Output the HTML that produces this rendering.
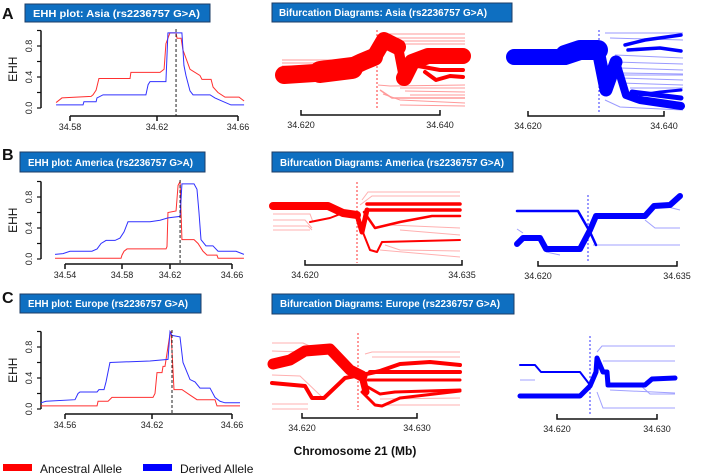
<!DOCTYPE html>
<html><head><meta charset="utf-8">
<style>
body{margin:0;background:#fff;}
svg{display:block;font-family:"Liberation Sans",sans-serif;}
.tb{fill:#0E6FC1;stroke:#1d3c66;stroke-width:1;}
.tt{fill:#fff;font-weight:bold;font-size:10.5px;}
.tick{font-size:9px;fill:#222;}
</style></head><body>
<svg id="fig" width="702" height="475" viewBox="0 0 702 475">
<g font-weight="bold" font-size="16" fill="#111">
<text x="2" y="19">A</text>
<text x="2" y="160">B</text>
<text x="2" y="303">C</text>
</g>
<g>
<rect class="tb" x="25" y="4" width="185" height="18"/>
<text class="tt" x="33" y="17" textLength="167" lengthAdjust="spacingAndGlyphs">EHH plot: Asia (rs2236757 G&gt;A)</text>
<rect class="tb" x="272" y="3" width="240" height="19"/>
<text class="tt" x="279" y="16" textLength="208" lengthAdjust="spacingAndGlyphs">Bifurcation Diagrams: Asia (rs2236757 G&gt;A)</text>
<rect class="tb" x="20" y="152" width="185" height="20"/>
<text class="tt" x="28" y="166" textLength="165" lengthAdjust="spacingAndGlyphs">EHH plot: America (rs2236757 G&gt;A)</text>
<rect class="tb" x="272" y="152" width="241" height="20"/>
<text class="tt" x="280" y="166" textLength="224" lengthAdjust="spacingAndGlyphs">Bifurcation Diagrams: America (rs2236757 G&gt;A)</text>
<rect class="tb" x="20" y="294" width="181" height="19"/>
<text class="tt" x="28" y="307" textLength="160" lengthAdjust="spacingAndGlyphs">EHH plot: Europe (rs2236757 G&gt;A)</text>
<rect class="tb" x="272" y="294" width="242" height="20"/>
<text class="tt" x="280" y="307" textLength="220" lengthAdjust="spacingAndGlyphs">Bifurcation Diagrams: Europe (rs2236757 G&gt;A)</text>
</g>
<text x="355" y="455" text-anchor="middle" font-weight="bold" font-size="12" fill="#111">Chromosome 21 (Mb)</text>
<g>
<rect x="3" y="464" width="29" height="7" fill="#ff0000"/>
<text x="40" y="473" font-size="12" fill="#111">Ancestral Allele</text>
<rect x="143" y="464" width="29" height="7" fill="#0000ff"/>
<text x="180" y="473" font-size="12" fill="#111">Derived Allele</text>
</g>
<g id="charts"></g>
</svg>
<script>
// EHH data (x in Mb, y = EHH)
const asiaTicks=[34.58,34.62,34.66];
const asiaRedX=[34.5736,34.5763,34.5897,34.5906,34.5920,34.5933,34.6076,34.6080,34.6215,34.6235,34.6244,34.6264,34.6294,34.6299,34.6319,34.6328,34.6363,34.6412,34.6422,34.6467,34.6477,34.6501,34.6536,34.6605,34.6630];
const asiaRedY=[0.07,0.13,0.15,0.17,0.23,0.38,0.38,0.46,0.46,0.50,0.83,0.97,0.97,0.90,0.90,0.75,0.50,0.42,0.37,0.37,0.27,0.20,0.14,0.14,0.09];
const asiaBlueX=[34.5736,34.5860,34.5864,34.5920,34.5924,34.5952,34.6149,34.6159,34.6168,34.6244,34.6254,34.6323,34.6333,34.6343,34.6363,34.6378,34.6462,34.6486,34.6521,34.6565,34.6630];
const asiaBlueY=[0.04,0.04,0.08,0.08,0.13,0.17,0.17,0.30,0.34,0.34,0.97,0.97,0.55,0.42,0.22,0.17,0.17,0.13,0.09,0.04,0.04];
const asiaCore=34.6294;
const amTicks=[34.54,34.58,34.62,34.66];
const amRedX=[34.5330,34.5793,34.5800,34.5817,34.5842,34.6167,34.6175,34.6183,34.6239,34.6252,34.6265,34.6277,34.6355,34.6381,34.6413,34.6439,34.6503,34.6510,34.6677];
const amRedY=[0.01,0.01,0.05,0.10,0.13,0.13,0.16,0.60,0.62,0.95,1.00,0.25,0.25,0.20,0.10,0.05,0.05,0.01,0.01];
const amBlueX=[34.5330,34.5386,34.5435,34.5589,34.5625,34.5653,34.5688,34.5751,34.5786,34.5817,34.5850,34.6033,34.6117,34.6183,34.6265,34.6277,34.6355,34.6374,34.6387,34.6400,34.6432,34.6477,34.6510,34.6626,34.6677];
const amBlueY=[0.06,0.07,0.10,0.10,0.13,0.20,0.24,0.24,0.27,0.35,0.48,0.48,0.50,0.53,0.55,0.97,0.97,0.90,0.60,0.25,0.17,0.17,0.10,0.10,0.06];
const amCore=34.6265;
const euTicks=[34.56,34.62,34.66];
const euRedX=[34.5434,34.5821,34.5828,34.5897,34.5924,34.6205,34.6215,34.6225,34.6250,34.6255,34.6265,34.6290,34.6295,34.6310,34.6350,34.6390,34.6425,34.6515,34.6525,34.6640];
const euRedY=[0.04,0.04,0.10,0.10,0.15,0.15,0.20,0.47,0.47,0.55,0.55,0.97,1.00,0.25,0.25,0.18,0.12,0.12,0.04,0.04];
const euBlueX=[34.5434,34.5469,34.5669,34.5690,34.5703,34.5821,34.5834,34.5869,34.5883,34.5910,34.6186,34.6280,34.6290,34.6300,34.6340,34.6355,34.6390,34.6415,34.6440,34.6490,34.6515,34.6540,34.6565,34.6640];
const euBlueY=[0.08,0.10,0.12,0.20,0.22,0.22,0.25,0.25,0.35,0.60,0.62,0.64,1.00,0.95,0.93,0.60,0.38,0.35,0.27,0.27,0.15,0.10,0.08,0.08];
const euCore=34.630;
const yTicks=[0,0.2,0.4,0.6,0.8,1.0];
const yLabels=["0.0","","0.4","","0.8",""];

const NS="http://www.w3.org/2000/svg";
const root=document.getElementById('charts');
function mk(tag,attrs,parent){const e=document.createElementNS(NS,tag);for(const k in attrs)e.setAttribute(k,attrs[k]);(parent||root).appendChild(e);return e;}
function piecewise(dom,rng){return v=>{let i=0;while(i<dom.length-2&&v>dom[i+1])i++;return rng[i]+(v-dom[i])*(rng[i+1]-rng[i])/(dom[i+1]-dom[i]);};}

function ehh(name,ticks,tickPx,y0,axisY,redX,redY,blueX,blueY,core){
  const g=mk('g',{});
  
  
  const sx=piecewise(ticks,tickPx);
  const sy=v=>y0-v*77.5;
  const ya=mk('line',{x1:41,x2:41,y1:sy(0),y2:sy(1),stroke:'#111','stroke-width':1.5},g);
  
  
  yTicks.forEach((t,i)=>{
    const tl=mk('line',{x1:37,x2:41,y1:sy(t),y2:sy(t),stroke:'#111','stroke-width':1.2},g);
    
    
    if(yLabels[i]){
      const tx=mk('text',{x:0,y:0,transform:`translate(32,${sy(t)}) rotate(-90)`,'text-anchor':'middle','class':'tick','font-size':'8.5'},g);
      tx.textContent=yLabels[i];
      
      
    }
  });
  const yt=mk('text',{x:0,y:0,transform:`translate(17,${sy(0.5)}) rotate(-90)`,'text-anchor':'middle','font-size':'12',fill:'#111'},g);
  yt.textContent='EHH';
  
  
  const xa=mk('line',{x1:sx(ticks[0]),x2:sx(ticks[ticks.length-1]),y1:axisY,y2:axisY,stroke:'#111','stroke-width':1.5},g);
  
  
  ticks.forEach(t=>{
    const tl=mk('line',{x1:sx(t),x2:sx(t),y1:axisY,y2:axisY+5,stroke:'#111','stroke-width':1.5},g);
    
    
    const tx=mk('text',{x:sx(t),y:axisY+14,'text-anchor':'middle','class':'tick'},g);
    tx.textContent=t.toFixed(2);
    
    
  });
  const pr=mk('polyline',{points:redX.map((x,i)=>sx(x)+','+sy(redY[i])).join(' '),fill:'none',stroke:'#ff3030','stroke-width':1},g);
  
  
  const pb=mk('polyline',{points:blueX.map((x,i)=>sx(x)+','+sy(blueY[i])).join(' '),fill:'none',stroke:'#3030ff','stroke-width':1},g);
  
  
  const cl=mk('line',{x1:sx(core),x2:sx(core),y1:sy(1.02),y2:axisY,stroke:'#222','stroke-width':1,'stroke-dasharray':'3,2'},g);
  
  
}
ehh('ehh-plot-asia',asiaTicks,[70,157,238],108,116,asiaRedX,asiaRedY,asiaBlueX,asiaBlueY,asiaCore);
ehh('ehh-plot-america',amTicks,[65,122,170,232],259,264,amRedX,amRedY,amBlueX,amBlueY,amCore);
ehh('ehh-plot-europe',euTicks,[65,152,232],409,414,euRedX,euRedY,euBlueX,euBlueY,euCore);

const bifs=[
 {name:'bifurcation-asia-ancestral',col:'#ff0000',light:'#ff9a9a',core:377,cy:[30,110],ax:[301,440,115],labels:['34.620','34.640'],
  thick:[[[284,75,330,72,345,70,362,62,374,57],18],[[374,57,384,40,398,47],16],[[398,47,404,78],10],[[404,78,412,62,428,56,463,56],16],[[320,72,352,68],22],[[418,66,440,70,463,70],4],[[425,72,436,80,450,76,463,77],4]],
  thin:[[[282,60,335,60],1],[[282,63,330,63],1],[[282,66,300,66],1],[[382,34,465,34],1],[[390,38,465,38],1],[[395,41,465,41],1],[[400,44,465,44],1],[[380,90,392,98,465,98],1.5],[[383,94,400,100,465,103],1],[[400,88,465,88],1],[[405,91,465,92],1],[[410,95,465,95],1],[[378,85,390,86,465,85],1],[[400,105,465,106],1]]},
 {name:'bifurcation-asia-derived',col:'#0000ff',light:'#9a9aff',core:599,cy:[30,112],ax:[528,664,116],labels:['34.620','34.640'],
  thick:[[[514,57,565,57],16],[[565,55,580,50,598,50],20],[[598,50,606,90,616,62],13],[[616,62,626,95,640,100,681,106],8],[[625,45,645,40,681,35],3.5],[[628,50,660,48,681,51],3.5],[[632,92,681,98],5],[[640,95,660,92,681,90],3]],
  thin:[[[605,33,683,33],1],[[610,38,683,40],1],[[615,55,683,58],1],[[615,62,683,64],1],[[620,68,683,70],1],[[620,73,683,74],1],[[620,78,683,80],1],[[620,83,683,85],1],[[630,88,683,88],1],[[605,100,620,107,683,110],1],[[600,60,610,75,683,75],1]]},
 {name:'bifurcation-america-ancestral',col:'#ff0000',light:'#ffb0b0',core:357,cy:[182,263],ax:[305,462,265],labels:['34.620','34.635'],
  thick:[[[273,206,328,206,343,213,357,215],8],[[357,215,362,232,367,210],5],[[367,204,460,204],3.5],[[367,210,460,210],3.5],[[364,212,375,228,400,222,432,216,460,216],2.5],[[360,225,370,250,377,252,382,242,460,240],2],[[310,222,330,218,343,213],2]],
  thin:[[[273,214,310,214,313,222],1],[[273,220,305,220,312,228],1],[[273,226,308,226,312,230],1],[[273,230,310,230],1],[[362,200,368,192,460,192],1],[[360,205,372,196,460,196],1],[[390,225,460,228],1],[[400,230,460,235],1],[[385,245,400,250,460,251],1],[[380,250,460,257],1]]},
 {name:'bifurcation-america-derived',col:'#0000ff',light:'#a0a0ff',core:588,cy:[195,262],ax:[538,677,266],labels:['34.620','34.635'],
  thick:[[[517,211,578,211,590,232,596,245],2.5],[[517,244,523,238,540,238,546,249,580,249,590,230,596,216,645,216,654,206,670,205,680,196],6]],
  thin:[[[517,229,523,233],1],[[593,245,680,245],1],[[645,220,655,228,680,228],1],[[660,205,680,210],1],[[546,252,560,255],1]]},
 {name:'bifurcation-europe-ancestral',col:'#ff0000',light:'#ffb0b0',core:358,cy:[333,410],ax:[302,417,418],labels:['34.620','34.630'],
  thick:[[[273,364,290,360,305,351,330,349,350,370,362,376],11],[[272,383,305,386,312,398,324,398,345,378,360,375],4],[[362,376,366,392],7],[[362,375,380,371,400,364,430,362,460,365],4],[[370,372,460,372],4],[[368,380,460,380],3],[[366,386,380,394,395,392,460,390],3],[[362,392,375,405,382,406,400,398,460,391],3]],
  thin:[[[272,343,303,343,312,347],1],[[272,351,300,352,305,355],1],[[272,375,300,376,322,397],1],[[272,404,308,404],1],[[272,409,308,409],1],[[365,354,372,352,460,352],1],[[372,357,460,357],1],[[380,399,460,398],1],[[385,405,460,405],1]]},
 {name:'bifurcation-europe-derived',col:'#0000ff',light:'#a0a0ff',core:590,cy:[336,416],ax:[557,657,419],labels:['34.620','34.630'],
  thick:[[[520,365,535,365,541,372,580,372,590,385],2],[[520,396,580,396,590,386,596,372,597,358,603,372,607,372,608,385,645,385,652,379,675,378],5]],
  thin:[[[597,352,602,346,675,346],1],[[603,361,675,361],1],[[520,380,535,380],1],[[610,390,675,393],1],[[640,385,650,394,675,394],1],[[597,392,603,408,675,408],1]]}
];
bifs.forEach(b=>{
  const g=mk('g',{});
  
  
  b.thin.forEach(br=>{
    const p=mk('polyline',{points:br[0].join(' '),fill:'none',stroke:b.light,'stroke-width':br[1]},g);
    
    
  });
  b.thick.forEach(br=>{
    const p=mk('polyline',{points:br[0].join(' '),fill:'none',stroke:b.col,'stroke-width':br[1],'stroke-linejoin':'round','stroke-linecap':'round'},g);
    
    
  });
  const cl=mk('line',{x1:b.core,x2:b.core,y1:b.cy[0],y2:b.cy[1],stroke:b.col,'stroke-width':0.8,'stroke-dasharray':'2,2'},g);
  
  
  const [x1,x2,y]=b.ax;
  const ax=mk('path',{d:`M${x1},${y-5}V${y}H${x2}V${y-5}`,fill:'none',stroke:'#111','stroke-width':1.5},g);
  
  
  [x1,x2].forEach((x,i)=>{
    const t=mk('text',{x:x,y:y+13,'text-anchor':'middle','class':'tick'},g);
    t.textContent=b.labels[i];
    
    
  });
});
</script>
</body></html>
